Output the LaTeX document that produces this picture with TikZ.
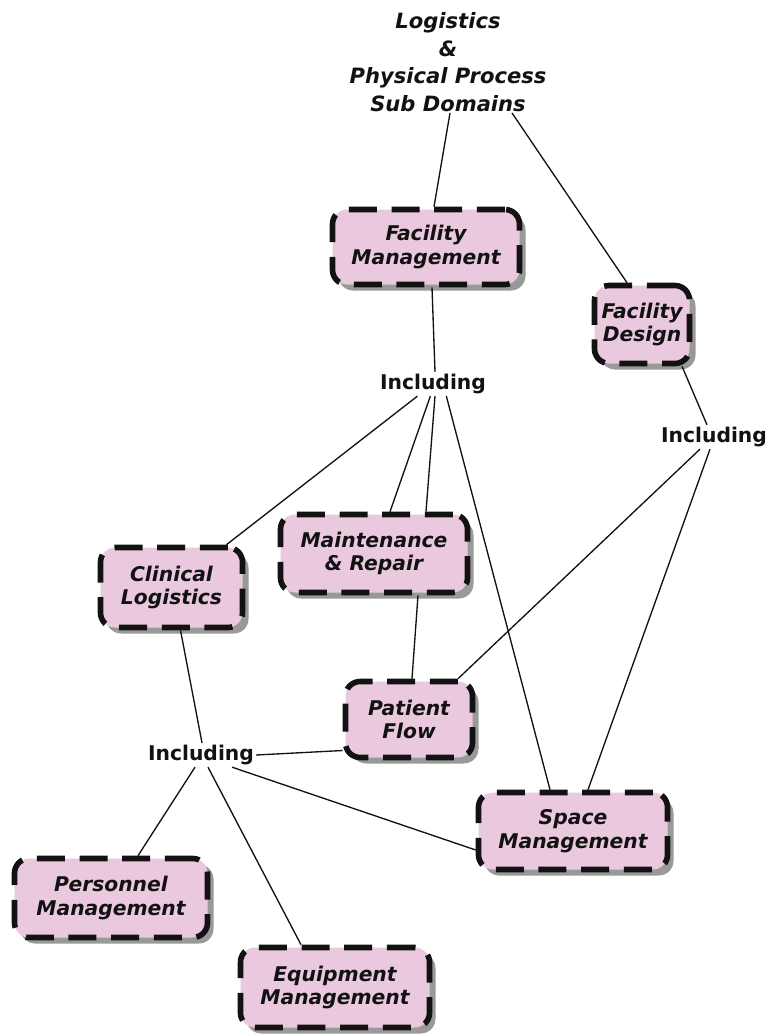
\documentclass[tikz,border=0pt]{standalone}
\usepackage{fontspec}
\setmainfont{DejaVu Sans}
\usetikzlibrary{shadows}
\definecolor{boxpink}{RGB}{234,201,222}
\definecolor{inkblack}{RGB}{18,18,18}
\tikzset{
  domainbox/.style={
    draw=inkblack, fill=boxpink, line width=4.2pt,
    dash pattern=on 21pt off 11pt,
    rounded corners=11pt, align=center, inner sep=0pt,
    text=inkblack, font=\fontsize{15.2}{17.8}\selectfont\bfseries\itshape,
    drop shadow={shadow xshift=4.5pt, shadow yshift=-4.5pt, fill=black!40, opacity=1}
  },
  joiner/.style={inner sep=1.5pt, text=inkblack,
    font=\fontsize{15.2}{18}\selectfont\bfseries},
  heading/.style={align=center, inner sep=1pt, text=inkblack,
    font=\fontsize{15.8}{20.6}\selectfont\bfseries\itshape},
  link/.style={draw=inkblack, line width=1pt}
}
\begin{document}
\begin{tikzpicture}[x=0.75pt,y=-0.75pt]
\useasboundingbox[fill=white] (0,0) rectangle (783,1035);

% heading
\node[heading] (title) at (448,62) {Logistics\\\&\\Physical Process\\Sub Domains};

% sub-domain boxes
\node[domainbox, minimum width=140.25pt, minimum height=56.25pt] (fm) at (426,247) {Facility\\Management};
\node[domainbox, minimum width=71.25pt, minimum height=58.5pt] (fd) at (642,324.5) {Facility\\Design};
\node[domainbox, minimum width=140.25pt, minimum height=58.5pt] (maint) at (374,553.5) {Maintenance\\\& Repair};
\node[domainbox, minimum width=106.5pt, minimum height=60pt] (clin) at (171.5,587.5) {Clinical\\Logistics};
\node[domainbox, minimum width=95.25pt, minimum height=57pt] (pf) at (409,719.5) {Patient\\Flow};
\node[domainbox, minimum width=141.75pt, minimum height=57.75pt] (space) at (573,831) {Space\\Management};
\node[domainbox, minimum width=144.75pt, minimum height=59.25pt] (pers) at (111,898) {Personnel\\Management};
\node[domainbox, minimum width=141.75pt, minimum height=60pt] (equip) at (335,987.5) {Equipment\\Management};

% "Including" joints
\node[joiner] (inc1) at (433,384) {Including};
\node[joiner] (inc2) at (714,437) {Including};
\node[joiner] (inc3) at (201,755) {Including};

% connectors
\draw[link] ([xshift=1.5pt]title.south) -- ([xshift=6pt]fm.north);
\draw[link] ([xshift=48pt]title.south) -- ([xshift=-11.25pt]fd.north);
\draw[link] ([xshift=4.5pt]fm.south) -- ([xshift=1.5pt]inc1.north);
\draw[link] (inc1) -- (clin);
\draw[link] ([xshift=-2pt]inc1.south) -- ([xshift=12pt]maint.north);
\draw[link] ([xshift=1.5pt]inc1.south) -- ([xshift=39pt]maint.north);
\draw[link] ([xshift=10pt]inc1.south) -- ([xshift=-17.25pt]space.north);
\draw[link] ([xshift=30pt]fd.south) -- ([xshift=-5.25pt]inc2.north);
\draw[link] ([xshift=-10.5pt]inc2.south) -- ([xshift=36.75pt]pf.north);
\draw[link] ([xshift=-3pt]inc2.south) -- ([xshift=11.25pt]space.north);
\draw[link] ([xshift=33pt]maint.south) -- ([xshift=2.25pt]pf.north);
\draw[link] ([xshift=6.75pt]clin.south) -- ([xshift=0.75pt]inc3.north);
\draw[link] (inc3.east) -- ([yshift=-23.25pt]pf.west);
\draw[link] ([xshift=-4.5pt]inc3.south) -- ([xshift=20.25pt]pers.north);
\draw[link] ([xshift=5.25pt]inc3.south) -- ([xshift=-25.5pt]equip.north);
\draw[link] ([xshift=23.25pt]inc3.south) -- ([yshift=-14.25pt]space.west);
\end{tikzpicture}
\end{document}
